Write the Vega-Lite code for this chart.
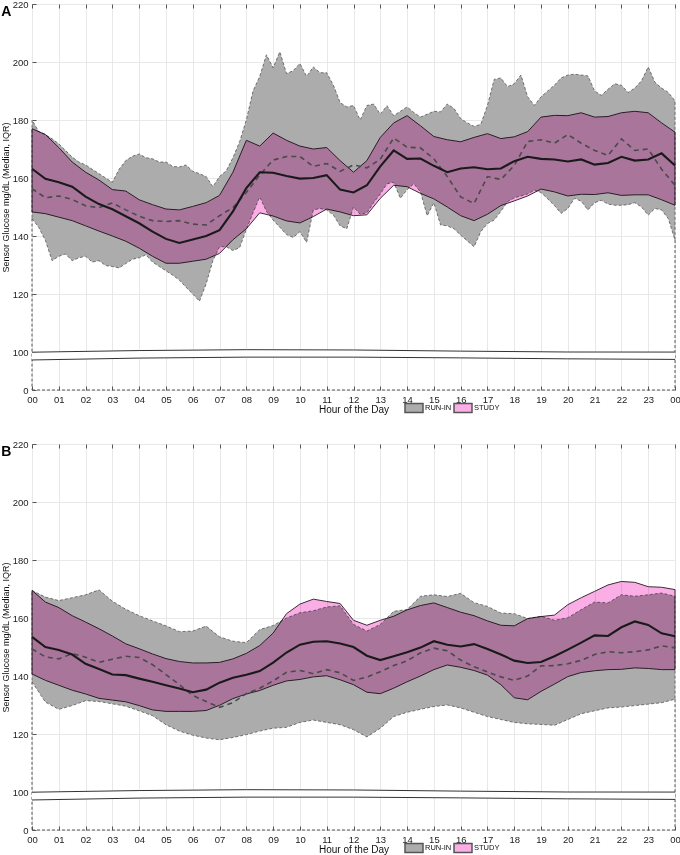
{
  "$schema": "https://vega.github.io/schema/vega-lite/v6.json",
  "padding": {"left": 0, "top": -2, "right": 0, "bottom": 0},
  "spacing": 21,
  "datasets": {
    "a_ri": [
      {"h":0,"lo":146,"hi":180},{"h":0.25,"lo":143,"hi":176},{"h":0.5,"lo":138.5,"hi":175},{"h":0.75,"lo":131.5,"hi":173.5},
      {"h":1,"lo":133,"hi":171.8},{"h":1.25,"lo":133.8,"hi":169.5},{"h":1.5,"lo":131.5,"hi":167.2},{"h":1.75,"lo":132.5,"hi":165.5},
      {"h":2,"lo":133,"hi":164.5},{"h":2.25,"lo":131,"hi":163},{"h":2.5,"lo":131.5,"hi":161.5},{"h":2.75,"lo":129.8,"hi":160},
      {"h":3,"lo":129.5,"hi":158.5},{"h":3.25,"lo":129,"hi":163},{"h":3.5,"lo":130.5,"hi":166},{"h":3.75,"lo":132,"hi":167.5},
      {"h":4,"lo":132.5,"hi":168.3},{"h":4.25,"lo":133.5,"hi":167},{"h":4.5,"lo":131,"hi":166.6},{"h":4.75,"lo":129.5,"hi":165.5},
      {"h":5,"lo":128,"hi":165.5},{"h":5.25,"lo":126.5,"hi":164},{"h":5.5,"lo":124.8,"hi":163.8},{"h":5.75,"lo":122.3,"hi":164.5},
      {"h":6,"lo":120,"hi":162.3},{"h":6.25,"lo":117.5,"hi":161.5},{"h":6.5,"lo":123.5,"hi":160.5},{"h":6.75,"lo":131.5,"hi":157},
      {"h":7,"lo":136.3,"hi":160.5},{"h":7.25,"lo":136.3,"hi":162.5},{"h":7.5,"lo":135,"hi":167},{"h":7.75,"lo":136,"hi":172.5},
      {"h":8,"lo":142.3,"hi":180},{"h":8.25,"lo":148,"hi":190},{"h":8.5,"lo":153.5,"hi":195},{"h":8.75,"lo":148.5,"hi":202.5},
      {"h":9,"lo":145.5,"hi":198},{"h":9.25,"lo":143,"hi":203.5},{"h":9.5,"lo":140.5,"hi":196},{"h":9.75,"lo":139.5,"hi":197},
      {"h":10,"lo":141.5,"hi":199.5},{"h":10.25,"lo":137.8,"hi":195},{"h":10.5,"lo":149,"hi":198.3},{"h":10.75,"lo":149.5,"hi":196.3},
      {"h":11,"lo":149,"hi":196.3},{"h":11.25,"lo":147.2,"hi":192},{"h":11.5,"lo":143.5,"hi":186},{"h":11.75,"lo":142.5,"hi":184.5},
      {"h":12,"lo":150,"hi":185},{"h":12.25,"lo":147.5,"hi":180},{"h":12.5,"lo":148,"hi":185},{"h":12.75,"lo":151.5,"hi":185.5},
      {"h":13,"lo":154.5,"hi":182},{"h":13.25,"lo":158,"hi":184.9},{"h":13.5,"lo":158.5,"hi":181.5},{"h":13.75,"lo":153,"hi":183},
      {"h":14,"lo":156,"hi":184.5},{"h":14.25,"lo":158,"hi":182.6},{"h":14.5,"lo":155.2,"hi":181},{"h":14.75,"lo":147,"hi":182},
      {"h":15,"lo":151.5,"hi":183},{"h":15.25,"lo":143.8,"hi":182.8},{"h":15.5,"lo":143.5,"hi":185.5},{"h":15.75,"lo":142.5,"hi":184},
      {"h":16,"lo":140.3,"hi":180.5},{"h":16.25,"lo":138.3,"hi":179},{"h":16.5,"lo":136.3,"hi":177.8},{"h":16.75,"lo":141.5,"hi":178.5},
      {"h":17,"lo":144.3,"hi":185},{"h":17.25,"lo":145.5,"hi":194},{"h":17.5,"lo":148.5,"hi":194.5},{"h":17.75,"lo":151.8,"hi":191.5},
      {"h":18,"lo":153.2,"hi":192.5},{"h":18.25,"lo":153.8,"hi":195.5},{"h":18.5,"lo":154.5,"hi":188},{"h":18.75,"lo":155.8,"hi":185},
      {"h":19,"lo":155,"hi":188},{"h":19.25,"lo":152.8,"hi":190},{"h":19.5,"lo":150.5,"hi":192},{"h":19.75,"lo":147.8,"hi":194.5},
      {"h":20,"lo":149.5,"hi":195.5},{"h":20.25,"lo":153,"hi":195.8},{"h":20.5,"lo":152,"hi":195.5},{"h":20.75,"lo":149,"hi":195.2},
      {"h":21,"lo":151.5,"hi":190},{"h":21.25,"lo":152.3,"hi":188.5},{"h":21.5,"lo":151,"hi":190.6},{"h":21.75,"lo":150.6,"hi":192.5},
      {"h":22,"lo":150.6,"hi":192},{"h":22.25,"lo":150.8,"hi":189.5},{"h":22.5,"lo":151.5,"hi":191},{"h":22.75,"lo":150,"hi":193.5},
      {"h":23,"lo":147.2,"hi":198.3},{"h":23.25,"lo":149.5,"hi":193},{"h":23.5,"lo":149,"hi":191},{"h":23.75,"lo":146,"hi":189.5},
      {"h":24,"lo":138.6,"hi":186.6}
    ],
    "a_st": [
      {"h":0,"sl":148.3,"sh":177,"sm":163.2,"rm":156.3},{"h":0.5,"sl":147.7,"sh":175,"sm":159.7,"rm":153.2},
      {"h":1,"sl":146.5,"sh":170.5,"sm":158.5,"rm":153.8},{"h":1.5,"sl":145.3,"sh":165.5,"sm":157,"rm":152.6},
      {"h":2,"sl":143.5,"sh":162,"sm":153.6,"rm":150.4},{"h":2.5,"sl":141.7,"sh":159.3,"sm":151,"rm":149.8},
      {"h":3,"sl":140,"sh":156,"sm":149.2,"rm":151.4},{"h":3.5,"sl":138.2,"sh":155.5,"sm":146.8,"rm":149},
      {"h":4,"sl":135.8,"sh":152.5,"sm":144.4,"rm":146.8},{"h":4.5,"sl":133,"sh":150.8,"sm":141.5,"rm":145.3},
      {"h":5,"sl":130.6,"sh":149.3,"sm":139,"rm":145},{"h":5.5,"sl":130.6,"sh":149,"sm":137.6,"rm":145.3},
      {"h":6,"sl":131.3,"sh":150.2,"sm":138.8,"rm":144.1},{"h":6.5,"sl":132,"sh":151.5,"sm":140,"rm":143.8},
      {"h":7,"sl":134,"sh":154,"sm":142,"rm":147},{"h":7.5,"sl":138.7,"sh":162,"sm":148.5,"rm":149.8},
      {"h":8,"sl":142.5,"sh":173,"sm":156.5,"rm":155},{"h":8.5,"sl":148,"sh":171,"sm":162,"rm":161},
      {"h":9,"sl":146.9,"sh":175.5,"sm":161.8,"rm":166.2},{"h":9.5,"sl":145.2,"sh":173,"sm":160.7,"rm":167.4},
      {"h":10,"sl":144.5,"sh":171,"sm":159.8,"rm":167.4},{"h":10.5,"sl":146.7,"sh":170,"sm":160,"rm":164},
      {"h":11,"sl":149.3,"sh":170.5,"sm":161,"rm":165},{"h":11.5,"sl":148.3,"sh":166,"sm":156,"rm":162.3},
      {"h":12,"sl":147,"sh":162,"sm":155,"rm":164.5},{"h":12.5,"sl":147.3,"sh":166,"sm":157.5,"rm":163.5},
      {"h":13,"sl":153,"sh":174,"sm":164,"rm":166.5},{"h":13.5,"sl":157.5,"sh":179,"sm":169.5,"rm":173.8},
      {"h":14,"sl":157,"sh":181.5,"sm":166.6,"rm":170.6},{"h":14.5,"sl":154.7,"sh":178,"sm":166.7,"rm":170.4},
      {"h":15,"sl":152.8,"sh":174.3,"sm":164.2,"rm":166.6},{"h":15.5,"sl":150,"sh":173.2,"sm":162,"rm":160.5},
      {"h":16,"sl":147,"sh":172.5,"sm":163.3,"rm":153.5},{"h":16.5,"sl":145.3,"sh":174,"sm":163.7,"rm":151.2},
      {"h":17,"sl":147.5,"sh":175.3,"sm":163,"rm":160.5},{"h":17.5,"sl":150.5,"sh":173.6,"sm":163.3,"rm":159.5},
      {"h":18,"sl":152.1,"sh":174.2,"sm":165.8,"rm":164.3},{"h":18.5,"sl":153.8,"sh":176,"sm":167.3,"rm":172.6},
      {"h":19,"sl":156.2,"sh":181,"sm":166.6,"rm":173.2},{"h":19.5,"sl":155.2,"sh":181.6,"sm":166.4,"rm":172},
      {"h":20,"sl":153.8,"sh":181.5,"sm":165.7,"rm":175},{"h":20.5,"sl":154.4,"sh":182.5,"sm":166.4,"rm":172},
      {"h":21,"sl":154.3,"sh":181,"sm":164.6,"rm":169.5},{"h":21.5,"sl":154.9,"sh":181.2,"sm":165.2,"rm":167.8},
      {"h":22,"sl":154,"sh":182.5,"sm":167.3,"rm":173.5},{"h":22.5,"sl":154.2,"sh":183,"sm":166,"rm":169.5},
      {"h":23,"sl":154.2,"sh":182.5,"sm":166.4,"rm":170},{"h":23.5,"sl":152.5,"sh":179,"sm":168.5,"rm":163},
      {"h":24,"sl":150.6,"sh":175.8,"sm":164.3,"rm":157.5}
    ],
    "b_ri": [
      {"h":0,"lo":138,"hi":169.5},{"h":0.5,"lo":131,"hi":167.2},{"h":1,"lo":128.5,"hi":166},{"h":1.5,"lo":129.8,"hi":167},
      {"h":2,"lo":131.5,"hi":168},{"h":2.5,"lo":131.2,"hi":169.7},{"h":3,"lo":130.4,"hi":165.8},{"h":3.5,"lo":129.6,"hi":163},
      {"h":4,"lo":128,"hi":160.8},{"h":4.5,"lo":126.3,"hi":159},{"h":5,"lo":123.2,"hi":157.3},{"h":5.5,"lo":121,"hi":155.3},
      {"h":6,"lo":119.6,"hi":155.5},{"h":6.5,"lo":118.6,"hi":157.2},{"h":7,"lo":118,"hi":153.5},{"h":7.5,"lo":118.8,"hi":152},
      {"h":8,"lo":119.8,"hi":151.5},{"h":8.5,"lo":121,"hi":156},{"h":9,"lo":122,"hi":157.4},{"h":9.5,"lo":122.3,"hi":160},
      {"h":10,"lo":124,"hi":161.8},{"h":10.5,"lo":124.8,"hi":162.5},{"h":11,"lo":124,"hi":163.8},{"h":11.5,"lo":123.2,"hi":164.2},
      {"h":12,"lo":121.5,"hi":157.8},{"h":12.5,"lo":119,"hi":155.5},{"h":13,"lo":122,"hi":157.8},{"h":13.5,"lo":126,"hi":162.3},
      {"h":14,"lo":127.5,"hi":162.9},{"h":14.5,"lo":128.5,"hi":167.5},{"h":15,"lo":129.5,"hi":168},{"h":15.5,"lo":130,"hi":167.4},
      {"h":16,"lo":129,"hi":168.5},{"h":16.5,"lo":127.5,"hi":165.3},{"h":17,"lo":126,"hi":164},{"h":17.5,"lo":125,"hi":161.7},
      {"h":18,"lo":124,"hi":161.5},{"h":18.5,"lo":123.5,"hi":159.8},{"h":19,"lo":123.3,"hi":160.6},{"h":19.5,"lo":123,"hi":159.2},
      {"h":20,"lo":125,"hi":160.1},{"h":20.5,"lo":127,"hi":162.9},{"h":21,"lo":128,"hi":165.5},{"h":21.5,"lo":129,"hi":165.2},
      {"h":22,"lo":129.3,"hi":168},{"h":22.5,"lo":129.8,"hi":167.5},{"h":23,"lo":130.3,"hi":168},{"h":23.5,"lo":130.8,"hi":168.6},
      {"h":24,"lo":132,"hi":167.5}
    ],
    "b_st": [
      {"h":0,"sl":140.7,"sh":169.5,"sm":153.5,"rm":149.3},{"h":0.5,"sl":138.5,"sh":165.5,"sm":150,"rm":146.6},
      {"h":1,"sl":136.8,"sh":163.6,"sm":149,"rm":145.9},{"h":1.5,"sl":135.1,"sh":160.8,"sm":147.4,"rm":147.7},
      {"h":2,"sl":133.8,"sh":158.6,"sm":144.2,"rm":146.5},{"h":2.5,"sl":132.3,"sh":156.3,"sm":142.4,"rm":144.7},
      {"h":3,"sl":131.7,"sh":153.8,"sm":140.5,"rm":145.8},{"h":3.5,"sl":131.1,"sh":151.1,"sm":140.3,"rm":146.8},
      {"h":4,"sl":129.8,"sh":149.4,"sm":139.1,"rm":146.4},{"h":4.5,"sl":128.3,"sh":147.6,"sm":138,"rm":143.9},
      {"h":5,"sl":127.8,"sh":146,"sm":136.8,"rm":140.5},{"h":5.5,"sl":127.8,"sh":145,"sm":135.7,"rm":137},
      {"h":6,"sl":127.8,"sh":144.5,"sm":134.4,"rm":133.3},{"h":6.5,"sl":128.1,"sh":144.5,"sm":135.3,"rm":131.2},
      {"h":7,"sl":129.9,"sh":144.7,"sm":137.7,"rm":129.2},{"h":7.5,"sl":132.2,"sh":145.9,"sm":139.4,"rm":130.8},
      {"h":8,"sl":133.8,"sh":147.8,"sm":140.4,"rm":133.9},{"h":8.5,"sl":135,"sh":150.5,"sm":141.7,"rm":135.8},
      {"h":9,"sl":136.8,"sh":154.8,"sm":144.6,"rm":138.3},{"h":9.5,"sl":138.3,"sh":161.5,"sm":148.1,"rm":141.3},
      {"h":10,"sl":138.8,"sh":164.8,"sm":150.8,"rm":141.9},{"h":10.5,"sl":139.7,"sh":166.5,"sm":151.8,"rm":140.8},
      {"h":11,"sl":140.1,"sh":165.7,"sm":152,"rm":142.2},{"h":11.5,"sl":138.7,"sh":165,"sm":151.2,"rm":141.1},
      {"h":12,"sl":137,"sh":159.2,"sm":150,"rm":138.5},{"h":12.5,"sl":134.4,"sh":157.5,"sm":147,"rm":139.6},
      {"h":13,"sl":133.9,"sh":159.2,"sm":145.5,"rm":141.5},{"h":13.5,"sl":135.8,"sh":160.6,"sm":146.8,"rm":143.6},
      {"h":14,"sl":138,"sh":162.8,"sm":148.2,"rm":145.2},{"h":14.5,"sl":140,"sh":164.3,"sm":149.8,"rm":148},
      {"h":15,"sl":142.2,"sh":165.2,"sm":152,"rm":149.6},{"h":15.5,"sl":143.8,"sh":163.6,"sm":150.8,"rm":148.7},
      {"h":16,"sl":143,"sh":162,"sm":150.2,"rm":145.5},{"h":16.5,"sl":141.9,"sh":160.8,"sm":151,"rm":143.2},
      {"h":17,"sl":140.3,"sh":159,"sm":149.3,"rm":141.4},{"h":17.5,"sl":137,"sh":157.5,"sm":147.4,"rm":139.7},
      {"h":18,"sl":132.5,"sh":157.3,"sm":145.3,"rm":138.5},{"h":18.5,"sl":131.8,"sh":159.8,"sm":144.5,"rm":140},
      {"h":19,"sl":134.7,"sh":160.5,"sm":144.8,"rm":143.5},{"h":19.5,"sl":137.2,"sh":161,"sm":146.8,"rm":143.6},
      {"h":20,"sl":139.8,"sh":164.6,"sm":149.1,"rm":144.2},{"h":20.5,"sl":141.2,"sh":167,"sm":151.5,"rm":145.4},
      {"h":21,"sl":141.8,"sh":169.2,"sm":154,"rm":147.4},{"h":21.5,"sl":142.2,"sh":171.4,"sm":153.8,"rm":148.4},
      {"h":22,"sl":142.3,"sh":172.6,"sm":156.8,"rm":148},{"h":22.5,"sl":142.8,"sh":172.3,"sm":158.8,"rm":148.4},
      {"h":23,"sl":142.6,"sh":170.8,"sm":157.6,"rm":149},{"h":23.5,"sl":142.2,"sh":170.6,"sm":154.7,"rm":150.4},
      {"h":24,"sl":142.2,"sh":169.8,"sm":153.7,"rm":149.7}
    ],
    "brk": [
      {"h":0,"top":99.5,"bot":79},{"h":4,"top":100.5,"bot":84},{"h":8,"top":100.8,"bot":86.5},{"h":12,"top":100.7,"bot":86.5},
      {"h":16,"top":100.3,"bot":84.5},{"h":20,"top":100,"bot":82},{"h":24,"top":99.8,"bot":80.5}
    ]
  },
  "vconcat": [
    {
      "width": 643, "height": 386,
      "title": {"text": "A", "anchor": "start", "frame": "bounds", "fontSize": 14, "fontWeight": "bold", "font": "Liberation Sans", "color": "#000", "offset": -20, "baseline": "top"},
      "layer": [
        {"data": {"name": "a_ri"},
         "mark": {"type": "area", "stroke": "#555", "strokeWidth": 0.8, "strokeDash": [3, 2], "opacity": 1},
         "encoding": {
           "x": {"field": "h", "type": "quantitative", "scale": {"domain": [0, 24], "nice": false, "zero": false},
                 "axis": {"values": [0,1,2,3,4,5,6,7,8,9,10,11,12,13,14,15,16,17,18,19,20,21,22,23,24], "labelExpr": "datum.value == 24 ? '00' : (datum.value < 10 ? '0' + datum.value : '' + datum.value)", "title": "Hour of the Day", "tickSize": -4, "labelPadding": 8, "labelFontSize": 9.5, "titleFontSize": 10, "titlePadding": 1, "grid": true, "labelFlush": false}},
           "y": {"field": "lo", "type": "quantitative", "scale": {"domain": [0, 100, 220], "range": [386, 348, 0], "nice": false, "zero": false},
                 "axis": {"values": [0,100,120,140,160,180,200,220], "title": "Sensor Glucose mg/dL (Median, IQR)", "tickSize": -4, "labelPadding": 8, "titlePadding": 2, "labelFontSize": 9.5, "titleFontSize": 9, "grid": true, "labelFlush": false}},
           "y2": {"field": "hi"},
           "color": {"datum": "RUN-IN", "type": "nominal", "scale": {"domain": ["RUN-IN", "STUDY"], "range": ["#acacac", "#fbaee6"]},
                     "legend": {"orient": "none", "legendX": 372, "legendY": 394, "direction": "horizontal", "gridAlign": "none", "title": null, "symbolType": "M-1,-0.5H1V0.5H-1Z", "symbolSize": 324, "labelFontSize": 7.5, "labelFont": "Liberation Sans", "labelOffset": 1, "columnPadding": -1, "symbolOpacity": 1,
                                "encode": {"symbols": {"update": {"strokeDash": {"signal": "datum.value == 'RUN-IN' ? [3,2] : [1,0]"}, "stroke": {"signal": "datum.value == 'RUN-IN' ? '#777777' : '#333333'"}, "strokeWidth": {"value": 1}}}}}}
         }},
        {"data": {"name": "a_ri"}, "transform": [{"filter": "datum.h == 0 || datum.h == 24"}],
         "mark": {"type": "rule", "color": "#555", "strokeWidth": 1, "strokeDash": [3, 2]},
         "encoding": {"x": {"field": "h", "type": "quantitative", "axis": null}, "y": {"field": "lo", "type": "quantitative"}, "y2": {"datum": 0}}},
        {"data": {"name": "a_st"}, "transform": [{"filter": "datum.h == 0 || datum.h == 24"}],
         "mark": {"type": "rule", "color": "#555", "strokeWidth": 1, "strokeDash": [3, 2]},
         "encoding": {"x": {"field": "h", "type": "quantitative", "aggregate": "min", "axis": null}, "x2": {"field": "h", "aggregate": "max"}, "y": {"datum": 0, "type": "quantitative"}}},
        {"data": {"name": "a_st"},
         "mark": {"type": "area", "blend": "multiply", "stroke": "#3b2b36", "strokeWidth": 1, "opacity": 1},
         "encoding": {"x": {"field": "h", "type": "quantitative", "axis": null}, "y": {"field": "sl", "type": "quantitative"}, "y2": {"field": "sh"}, "color": {"datum": "STUDY", "type": "nominal"}}},
        {"data": {"name": "a_st"},
         "mark": {"type": "line", "color": "#4a4a4a", "strokeWidth": 1.6, "strokeDash": [5, 4]},
         "encoding": {"x": {"field": "h", "type": "quantitative", "axis": null}, "y": {"field": "rm", "type": "quantitative"}}},
        {"data": {"name": "a_st"},
         "mark": {"type": "line", "color": "#1a1a1a", "strokeWidth": 2.1},
         "encoding": {"x": {"field": "h", "type": "quantitative", "axis": null}, "y": {"field": "sm", "type": "quantitative"}}},
        {"data": {"name": "brk"},
         "mark": {"type": "area", "fill": "#ffffff", "opacity": 1},
         "encoding": {"x": {"field": "h", "type": "quantitative", "axis": {"orient": "top", "labels": false, "title": null, "grid": false, "tickSize": -4, "values": [0,1,2,3,4,5,6,7,8,9,10,11,12,13,14,15,16,17,18,19,20,21,22,23,24]}},
                      "y": {"field": "bot", "type": "quantitative"}, "y2": {"field": "top"}}},
        {"data": {"name": "brk"},
         "mark": {"type": "line", "color": "#333", "strokeWidth": 1},
         "encoding": {"x": {"field": "h", "type": "quantitative", "axis": null}, "y": {"field": "top", "type": "quantitative"}}},
        {"data": {"name": "brk"},
         "mark": {"type": "line", "color": "#333", "strokeWidth": 1},
         "encoding": {"x": {"field": "h", "type": "quantitative", "axis": null}, "y": {"field": "bot", "type": "quantitative"}}}
      ],
      "resolve": {"axis": {"x": "independent"}}
    },
    {
      "width": 643, "height": 386,
      "title": {"text": "B", "anchor": "start", "frame": "bounds", "fontSize": 14, "fontWeight": "bold", "font": "Liberation Sans", "color": "#000", "offset": -20, "baseline": "top"},
      "layer": [
        {"data": {"name": "b_ri"},
         "mark": {"type": "area", "stroke": "#555", "strokeWidth": 0.8, "strokeDash": [3, 2], "opacity": 1},
         "encoding": {
           "x": {"field": "h", "type": "quantitative", "scale": {"domain": [0, 24], "nice": false, "zero": false},
                 "axis": {"values": [0,1,2,3,4,5,6,7,8,9,10,11,12,13,14,15,16,17,18,19,20,21,22,23,24], "labelExpr": "datum.value == 24 ? '00' : (datum.value < 10 ? '0' + datum.value : '' + datum.value)", "title": "Hour of the Day", "tickSize": -4, "labelPadding": 8, "labelFontSize": 9.5, "titleFontSize": 10, "titlePadding": 1, "grid": true, "labelFlush": false}},
           "y": {"field": "lo", "type": "quantitative", "scale": {"domain": [0, 100, 220], "range": [386, 348, 0], "nice": false, "zero": false},
                 "axis": {"values": [0,100,120,140,160,180,200,220], "title": "Sensor Glucose mg/dL (Median, IQR)", "tickSize": -4, "labelPadding": 8, "titlePadding": 2, "labelFontSize": 9.5, "titleFontSize": 9, "grid": true, "labelFlush": false}},
           "y2": {"field": "hi"},
           "color": {"datum": "RUN-IN", "type": "nominal", "scale": {"domain": ["RUN-IN", "STUDY"], "range": ["#acacac", "#fbaee6"]},
                     "legend": {"orient": "none", "legendX": 372, "legendY": 394, "direction": "horizontal", "gridAlign": "none", "title": null, "symbolType": "M-1,-0.5H1V0.5H-1Z", "symbolSize": 324, "labelFontSize": 7.5, "labelFont": "Liberation Sans", "labelOffset": 1, "columnPadding": -1, "symbolOpacity": 1,
                                "encode": {"symbols": {"update": {"strokeDash": {"signal": "datum.value == 'RUN-IN' ? [3,2] : [1,0]"}, "stroke": {"signal": "datum.value == 'RUN-IN' ? '#777777' : '#333333'"}, "strokeWidth": {"value": 1}}}}}}
         }},
        {"data": {"name": "b_ri"}, "transform": [{"filter": "datum.h == 0 || datum.h == 24"}],
         "mark": {"type": "rule", "color": "#555", "strokeWidth": 1, "strokeDash": [3, 2]},
         "encoding": {"x": {"field": "h", "type": "quantitative", "axis": null}, "y": {"field": "lo", "type": "quantitative"}, "y2": {"datum": 0}}},
        {"data": {"name": "b_st"}, "transform": [{"filter": "datum.h == 0 || datum.h == 24"}],
         "mark": {"type": "rule", "color": "#555", "strokeWidth": 1, "strokeDash": [3, 2]},
         "encoding": {"x": {"field": "h", "type": "quantitative", "aggregate": "min", "axis": null}, "x2": {"field": "h", "aggregate": "max"}, "y": {"datum": 0, "type": "quantitative"}}},
        {"data": {"name": "b_st"},
         "mark": {"type": "area", "blend": "multiply", "stroke": "#3b2b36", "strokeWidth": 1, "opacity": 1},
         "encoding": {"x": {"field": "h", "type": "quantitative", "axis": null}, "y": {"field": "sl", "type": "quantitative"}, "y2": {"field": "sh"}, "color": {"datum": "STUDY", "type": "nominal"}}},
        {"data": {"name": "b_st"},
         "mark": {"type": "line", "color": "#4a4a4a", "strokeWidth": 1.6, "strokeDash": [5, 4]},
         "encoding": {"x": {"field": "h", "type": "quantitative", "axis": null}, "y": {"field": "rm", "type": "quantitative"}}},
        {"data": {"name": "b_st"},
         "mark": {"type": "line", "color": "#1a1a1a", "strokeWidth": 2.1},
         "encoding": {"x": {"field": "h", "type": "quantitative", "axis": null}, "y": {"field": "sm", "type": "quantitative"}}},
        {"data": {"name": "brk"},
         "mark": {"type": "area", "fill": "#ffffff", "opacity": 1},
         "encoding": {"x": {"field": "h", "type": "quantitative", "axis": {"orient": "top", "labels": false, "title": null, "grid": false, "tickSize": -4, "values": [0,1,2,3,4,5,6,7,8,9,10,11,12,13,14,15,16,17,18,19,20,21,22,23,24]}},
                      "y": {"field": "bot", "type": "quantitative"}, "y2": {"field": "top"}}},
        {"data": {"name": "brk"},
         "mark": {"type": "line", "color": "#333", "strokeWidth": 1},
         "encoding": {"x": {"field": "h", "type": "quantitative", "axis": null}, "y": {"field": "top", "type": "quantitative"}}},
        {"data": {"name": "brk"},
         "mark": {"type": "line", "color": "#333", "strokeWidth": 1},
         "encoding": {"x": {"field": "h", "type": "quantitative", "axis": null}, "y": {"field": "bot", "type": "quantitative"}}}
      ],
      "resolve": {"axis": {"x": "independent"}}
    }
  ],
  "resolve": {"scale": {"color": "independent"}},
  "config": {
    "view": {"stroke": "#8f8f8f", "strokeWidth": 1},
    "axis": {"domain": false, "gridColor": "#e8e8e8", "gridWidth": 1, "tickColor": "#555", "tickWidth": 1, "labelColor": "#222", "titleColor": "#111", "labelFont": "Liberation Sans", "titleFont": "Liberation Sans", "titleFontWeight": "normal"},
    "legend": {"labelColor": "#111"}
  }
}
